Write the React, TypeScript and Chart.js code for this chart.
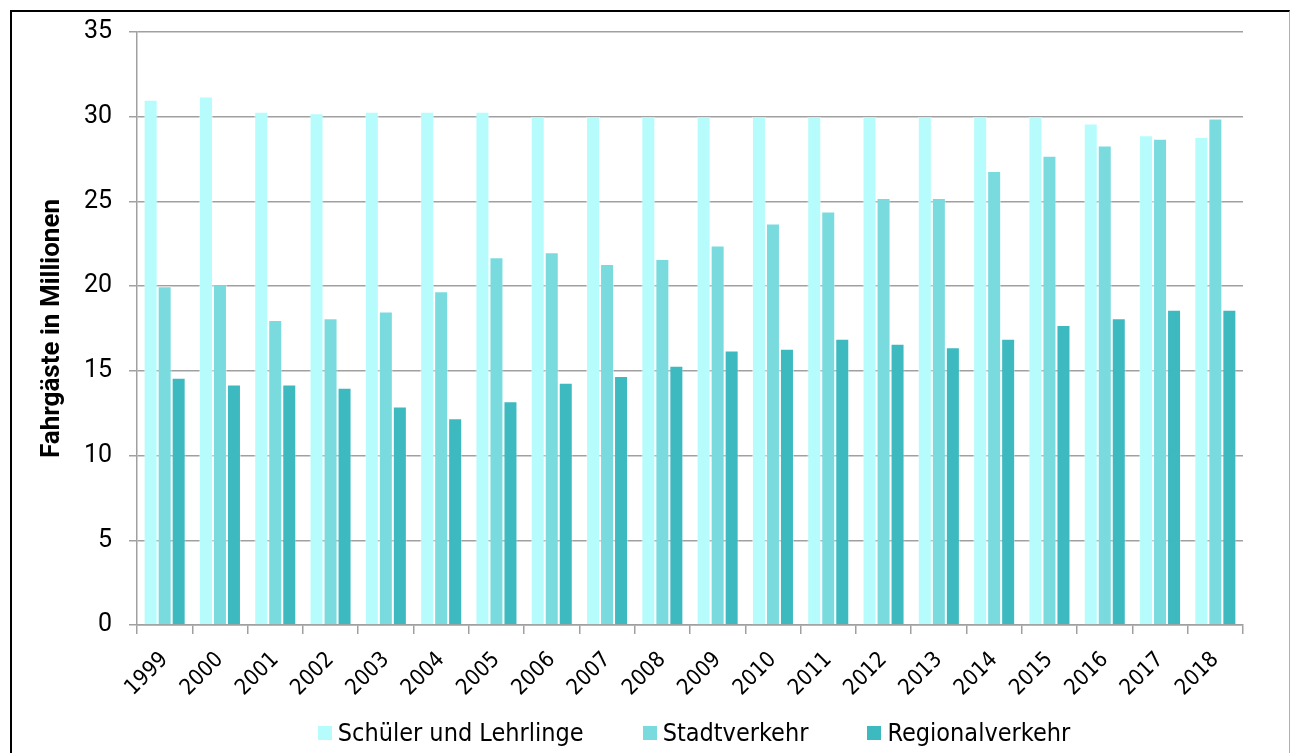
import React, { useEffect, useRef } from "react";
import { Chart, registerables } from "chart.js";

Chart.register(...registerables);

const years = ["1999","2000","2001","2002","2003","2004","2005","2006","2007","2008","2009","2010","2011","2012","2013","2014","2015","2016","2017","2018"];
const schueler = [31.0,31.2,30.3,30.2,30.3,30.3,30.3,30.0,30.0,30.0,30.0,30.0,30.0,30.0,30.0,30.0,30.0,29.6,28.9,28.8];
const stadt = [20.0,20.1,18.0,18.1,18.5,19.7,21.7,22.0,21.3,21.6,22.4,23.7,24.4,25.2,25.2,26.8,27.7,28.3,28.7,29.9];
const regional = [14.6,14.2,14.2,14.0,12.9,12.2,13.2,14.3,14.7,15.3,16.2,16.3,16.9,16.6,16.4,16.9,17.7,18.1,18.6,18.6];
const seriesNames = ["Schüler und Lehrlinge", "Stadtverkehr", "Regionalverkehr"];
const seriesColors = ["#B7FCFC", "#7ADBDF", "#3DB9C0"];
const yTitle = "Fahrgäste in Millionen";

const condensed = "'DejaVu Sans Condensed', 'DejaVu Sans', sans-serif";

export default function App() {
  const ref = useRef<HTMLCanvasElement | null>(null);
  useEffect(() => {
    if (!ref.current) return;
    const values = [schueler, stadt, regional];
    const chart = new Chart(ref.current, {
      type: "bar",
      data: {
        labels: years,
        datasets: seriesNames.map((n, i) => ({
          label: n,
          data: values[i],
          backgroundColor: seriesColors[i],
          borderColor: "rgba(255,255,255,0.45)",
          borderWidth: 1,
          categoryPercentage: 0.76,
          barPercentage: 1.0,
        })),
      },
      options: {
        animation: false,
        responsive: false,
        maintainAspectRatio: false,
        layout: { padding: { left: 33, top: 30, right: 47, bottom: 0 } },
        plugins: {
          tooltip: { enabled: false },
          legend: { display: false },
        },
        scales: {
          x: {
            grid: { drawOnChartArea: false, drawTicks: true, tickLength: 9, color: "#a0a0a0", lineWidth: 1.5 },
            border: { color: "#a0a0a0", width: 1.5 },
            ticks: {
              color: "#000",
              minRotation: 45,
              maxRotation: 45,
              padding: 13,
              font: { family: condensed, size: 22 },
            },
            afterFit: (s: any) => { s.height = 128; },
          },
          y: {
            min: 0,
            max: 35,
            ticks: {
              stepSize: 5,
              color: "#000",
              padding: 17,
              font: { family: "Roboto, sans-serif", size: 25 },
            },
            grid: { color: "#a0a0a0", lineWidth: 1.5, tickLength: 8 },
            border: { color: "#a0a0a0", width: 1.5 },
            title: {
              display: true,
              text: yTitle,
              color: "#000",
              font: { family: "Roboto, sans-serif", size: 26, weight: "bold" },
            },
            afterFit: (s: any) => { s.width = 104; },
          },
        },
      },
    });
    return () => chart.destroy();
  }, []);
  return (
    <div style={{ position: "absolute", left: 0, top: 0, width: 1290, height: 753, background: "#fff", overflow: "hidden" }}>
      <div style={{ position: "absolute", left: 10, top: 10, width: 1277, height: 760, borderTop: "2px solid #000", borderLeft: "2px solid #000", borderRight: "1px solid #b0b0b0" }} />
      <canvas ref={ref} width={1290} height={753} style={{ position: "absolute", left: 0, top: 0 }} />
      <div style={{ position: "absolute", left: 0, top: 718, width: 1388, height: 30, display: "flex", justifyContent: "center", alignItems: "center", fontFamily: condensed, fontSize: 25, color: "#000", whiteSpace: "nowrap" }}>
        {seriesNames.map((n, i) => (
          <div key={n} style={{ display: "flex", alignItems: "center", marginLeft: i === 0 ? 0 : 59 }}>
            <span style={{ display: "inline-block", width: 14, height: 14, background: seriesColors[i], marginRight: 6 }} />
            <span style={{ lineHeight: "30px" }}>{n}</span>
          </div>
        ))}
      </div>
    </div>
  );
}
